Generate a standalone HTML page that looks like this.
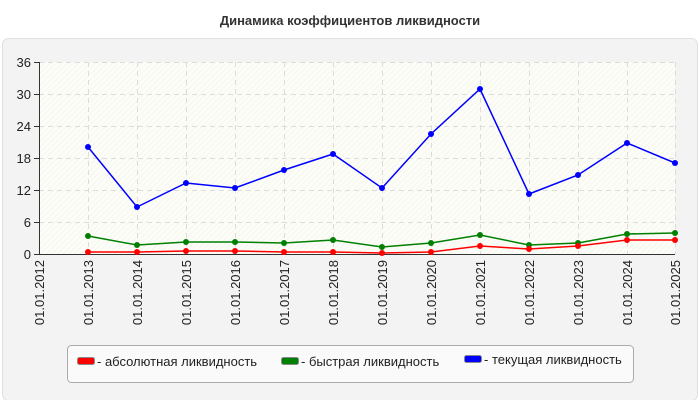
<!DOCTYPE html>
<html><head><meta charset="utf-8"><style>
body{margin:0;background:#fff;font-family:"Liberation Sans",sans-serif}
</style></head><body>
<svg width="700" height="400" xmlns="http://www.w3.org/2000/svg" font-family="Liberation Sans, sans-serif">
<defs>
<pattern id="h" width="4" height="4" patternUnits="userSpaceOnUse" patternTransform="rotate(45)">
<rect width="4" height="4" fill="#fdfdf8"/><line x1="0" y1="0" x2="0" y2="4" stroke="#f0f0ea" stroke-width="1"/>
</pattern>
</defs>
<rect x="0" y="0" width="700" height="400" fill="#fff"/>
<text x="350" y="25" text-anchor="middle" font-size="13" font-weight="bold" fill="#333">Динамика коэффициентов ликвидности</text>
<rect x="2.5" y="38.5" width="695" height="362" rx="6" fill="#f3f3f3" stroke="#e0e0e0"/>
<rect x="39" y="62" width="636" height="192" fill="url(#h)"/>
<g stroke="#dcdcdc" stroke-dasharray="5,4" stroke-width="1">
<line x1="39" y1="62.5" x2="675" y2="62.5"/><line x1="39" y1="94.5" x2="675" y2="94.5"/>
<line x1="39" y1="126.5" x2="675" y2="126.5"/><line x1="39" y1="158.5" x2="675" y2="158.5"/>
<line x1="39" y1="190.5" x2="675" y2="190.5"/><line x1="39" y1="222.5" x2="675" y2="222.5"/>
<line x1="88.5" y1="62" x2="88.5" y2="254"/><line x1="137.5" y1="62" x2="137.5" y2="254"/>
<line x1="186.5" y1="62" x2="186.5" y2="254"/><line x1="235.5" y1="62" x2="235.5" y2="254"/>
<line x1="284.5" y1="62" x2="284.5" y2="254"/><line x1="333.5" y1="62" x2="333.5" y2="254"/>
<line x1="382.5" y1="62" x2="382.5" y2="254"/><line x1="431.5" y1="62" x2="431.5" y2="254"/>
<line x1="480.5" y1="62" x2="480.5" y2="254"/><line x1="529.5" y1="62" x2="529.5" y2="254"/>
<line x1="578.5" y1="62" x2="578.5" y2="254"/><line x1="627.5" y1="62" x2="627.5" y2="254"/>
<line x1="675.5" y1="62" x2="675.5" y2="254"/>
</g>
<g stroke="#333" stroke-width="1">
<line x1="39.5" y1="62" x2="39.5" y2="255"/><line x1="39" y1="254.5" x2="675" y2="254.5"/>
<line x1="34" y1="62.5" x2="39" y2="62.5"/><line x1="34" y1="94.5" x2="39" y2="94.5"/>
<line x1="34" y1="126.5" x2="39" y2="126.5"/><line x1="34" y1="158.5" x2="39" y2="158.5"/>
<line x1="34" y1="190.5" x2="39" y2="190.5"/><line x1="34" y1="222.5" x2="39" y2="222.5"/>
<line x1="34" y1="254.5" x2="39" y2="254.5"/>
</g>
<g font-size="13" fill="#222" text-anchor="end">
<text x="31" y="67">36</text><text x="31" y="99">30</text><text x="31" y="131">24</text>
<text x="31" y="163">18</text><text x="31" y="195">12</text><text x="31" y="227">6</text><text x="31" y="259">0</text>
</g>
<g font-size="13" fill="#222" text-anchor="end">
<text transform="translate(44,260) rotate(-90)">01.01.2012</text>
<text transform="translate(93,260) rotate(-90)">01.01.2013</text>
<text transform="translate(142,260) rotate(-90)">01.01.2014</text>
<text transform="translate(191,260) rotate(-90)">01.01.2015</text>
<text transform="translate(240,260) rotate(-90)">01.01.2016</text>
<text transform="translate(289,260) rotate(-90)">01.01.2017</text>
<text transform="translate(338,260) rotate(-90)">01.01.2018</text>
<text transform="translate(387,260) rotate(-90)">01.01.2019</text>
<text transform="translate(436,260) rotate(-90)">01.01.2020</text>
<text transform="translate(485,260) rotate(-90)">01.01.2021</text>
<text transform="translate(534,260) rotate(-90)">01.01.2022</text>
<text transform="translate(583,260) rotate(-90)">01.01.2023</text>
<text transform="translate(632,260) rotate(-90)">01.01.2024</text>
<text transform="translate(680,260) rotate(-90)">01.01.2025</text>
</g>
<g fill="none" stroke-width="1.5">
<polyline stroke="#0000ff" points="88,147 137,207 186,183 235,188 284,170 333,154 382,188 431,134 480,89 529,194 578,175 627,143 675,163"/>
<polyline stroke="#008000" points="88,236 137,245 186,242 235,242 284,243 333,240 382,247 431,243 480,235 529,245 578,243 627,234 675,233"/>
<polyline stroke="#ff0000" points="88,252 137,252 186,251 235,251 284,252 333,252 382,253 431,252 480,246 529,249 578,246 627,240 675,240"/>
</g>
<g fill="#0000ff"><circle cx="88" cy="147" r="3"/><circle cx="137" cy="207" r="3"/><circle cx="186" cy="183" r="3"/><circle cx="235" cy="188" r="3"/><circle cx="284" cy="170" r="3"/><circle cx="333" cy="154" r="3"/><circle cx="382" cy="188" r="3"/><circle cx="431" cy="134" r="3"/><circle cx="480" cy="89" r="3"/><circle cx="529" cy="194" r="3"/><circle cx="578" cy="175" r="3"/><circle cx="627" cy="143" r="3"/><circle cx="675" cy="163" r="3"/></g>
<g fill="#008000"><circle cx="88" cy="236" r="3"/><circle cx="137" cy="245" r="3"/><circle cx="186" cy="242" r="3"/><circle cx="235" cy="242" r="3"/><circle cx="284" cy="243" r="3"/><circle cx="333" cy="240" r="3"/><circle cx="382" cy="247" r="3"/><circle cx="431" cy="243" r="3"/><circle cx="480" cy="235" r="3"/><circle cx="529" cy="245" r="3"/><circle cx="578" cy="243" r="3"/><circle cx="627" cy="234" r="3"/><circle cx="675" cy="233" r="3"/></g>
<g fill="#ff0000"><circle cx="88" cy="252" r="3"/><circle cx="137" cy="252" r="3"/><circle cx="186" cy="251" r="3"/><circle cx="235" cy="251" r="3"/><circle cx="284" cy="252" r="3"/><circle cx="333" cy="252" r="3"/><circle cx="382" cy="253" r="3"/><circle cx="431" cy="252" r="3"/><circle cx="480" cy="246" r="3"/><circle cx="529" cy="249" r="3"/><circle cx="578" cy="246" r="3"/><circle cx="627" cy="240" r="3"/><circle cx="675" cy="240" r="3"/></g>
<rect x="67.5" y="345.5" width="566" height="37" rx="4" fill="#fafafa" stroke="#aaa"/>
<rect x="77.5" y="357.5" width="17" height="7" rx="2" fill="#ff0000" stroke="#888"/>
<rect x="281.5" y="357.5" width="17" height="7" rx="2" fill="#008000" stroke="#888"/>
<rect x="464.5" y="355.5" width="17" height="7" rx="2" fill="#0000ff" stroke="#888"/>
<g font-size="13" fill="#222">
<text x="97" y="366">- абсолютная ликвидность</text>
<text x="301" y="366">- быстрая ликвидность</text>
<text x="484" y="364">- текущая ликвидность</text>
</g>
</svg>
</body></html>
